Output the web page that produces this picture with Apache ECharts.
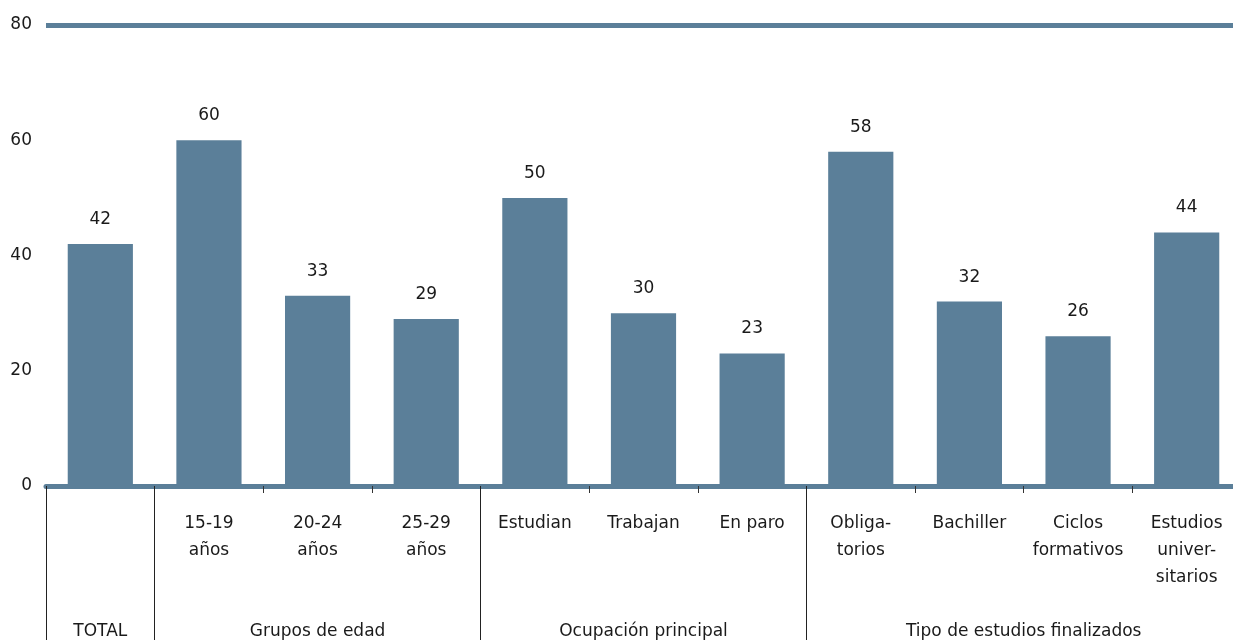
<!DOCTYPE html>
<html>
<head>
<meta charset="utf-8">
<script src="https://cdn.jsdelivr.net/npm/echarts@6/dist/echarts.min.js"></script>
<style>
  html, body { margin: 0; padding: 0; background: #fff; }
  #chart { width: 1233px; height: 640px; }
</style>
</head>
<body>
<div id="chart"></div>
<script>
  // categories and values
  let categories = ['', '15-19\naños', '20-24\naños', '25-29\naños', 'Estudian', 'Trabajan', 'En paro',
    'Obliga-\ntorios', 'Bachiller', 'Ciclos\nformativos', 'Estudios\nuniver-\nsitarios']
  let values = [42, 60, 33, 29, 50, 30, 23, 58, 32, 26, 44]
  let groupNames = ['TOTAL', 'Grupos de edad', 'Ocupación principal', 'Tipo de estudios finalizados']
  let groupCenters = [0.5, 2.5, 5.5, 9]
  let groupBounds = [0, 1, 4, 7]
  let yTicks = [0, 20, 40, 60, 80]

  let barColor = '#5b7f99'
  let textColor = '#1a1a1a'
  let font = '"DejaVu Sans", sans-serif'

  let myChart = echarts.init(document.getElementById('chart'))
  myChart.setOption({
    animation: false,
    grid: { left: 46, width: 1195, top: 25, bottom: 154, outerBoundsMode: 'none' },
    xAxis: [
      {
        type: 'category',
        data: categories,
        axisLine: { show: true, lineStyle: { color: barColor, width: 5 } },
        axisTick: { show: true, length: 7, lineStyle: { color: '#333', width: 1 } },
        axisLabel: {
          interval: 0,
          margin: 24,
          fontSize: 17,
          lineHeight: 27,
          fontFamily: font,
          color: textColor
        }
      },
      {
        type: 'value',
        position: 'bottom',
        min: 0,
        max: 11,
        splitLine: { show: false },
        axisLine: { show: false },
        axisTick: {
          show: true,
          length: 156,
          customValues: groupBounds,
          lineStyle: { color: '#222', width: 1 }
        },
        axisLabel: {
          margin: 137,
          fontSize: 17,
          fontFamily: font,
          color: textColor,
          customValues: groupCenters,
          formatter: (v) => {
            let i = groupCenters.indexOf(v)
            return i >= 0 ? groupNames[i] : ''
          }
        }
      }
    ],
    yAxis: {
      type: 'value',
      min: 0,
      max: 80,
      interval: 20,
      axisLine: { show: false },
      axisTick: { show: false },
      splitLine: { show: false },
      axisLabel: {
        margin: 14,
        fontSize: 17,
        fontFamily: font,
        color: textColor,
        formatter: (v) => yTicks.includes(v) ? String(v) : ''
      }
    },
    series: [{
      type: 'bar',
      data: values,
      barWidth: '60%',
      itemStyle: { color: barColor },
      label: {
        show: true,
        position: 'top',
        distance: 16,
        fontSize: 17,
        fontFamily: font,
        color: textColor
      },
      markLine: {
        silent: true,
        symbol: 'none',
        label: { show: false },
        lineStyle: { type: 'solid', color: barColor, width: 5 },
        data: [{ yAxis: 80 }]
      }
    }]
  })
</script>
</body>
</html>
